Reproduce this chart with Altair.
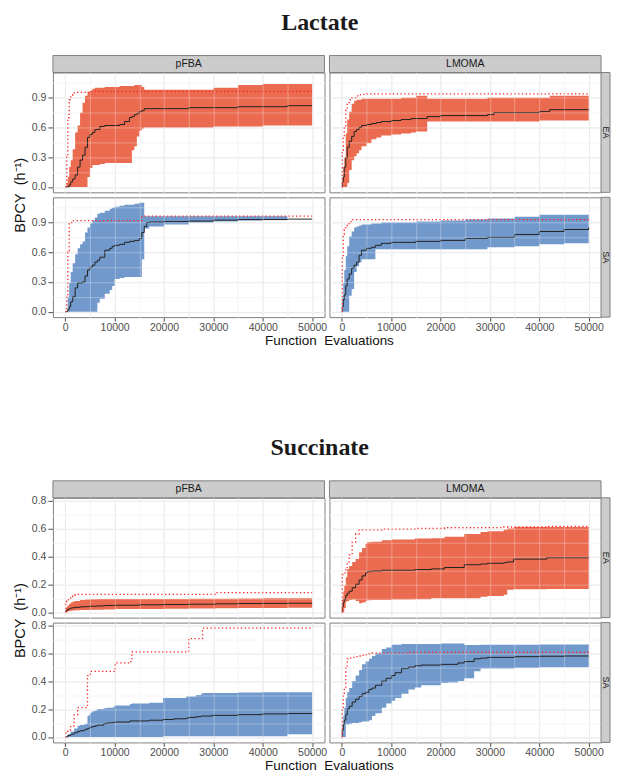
import altair as alt
import pandas as pd

# ---------------------------------------------------------------- data
# Function evaluations at which each step starts, and the step values of
# the ribbon (lower / upper), the median (black) and the maximum (red dots)

# Lactate - pFBA - EA
LAC_PFBA_EA_X = [0, 300, 500, 800, 1100, 1500, 2000, 2500, 3000, 3500, 4000, 4500,
                 5000, 5500, 6000, 7000, 8000, 9000, 10000, 11000, 12000, 13000, 13500,
                 14000, 14500, 15000, 15500, 16000, 17000, 20000, 25000, 30000, 35000,
                 40000, 45000, 50000]
LAC_PFBA_EA_LO = [0, 0, 0, 0, 0, 0, 0, 0, 0, 0, 0, 0.10, 0.19, 0.22, 0.22, 0.23, 0.24,
                  0.24, 0.24, 0.24, 0.24, 0.24, 0.37, 0.41, 0.51, 0.57, 0.59, 0.60, 0.60,
                  0.60, 0.60, 0.61, 0.61, 0.62, 0.62, 0.62]
LAC_PFBA_EA_HI = [0, 0.04, 0.10, 0.20, 0.27, 0.38, 0.55, 0.62, 0.75, 0.85, 0.92, 0.96,
                  0.97, 0.99, 1.00, 1.00, 1.01, 1.01, 1.01, 1.02, 1.02, 1.02, 1.02, 1.03,
                  1.03, 1.03, 1.01, 0.98, 0.98, 0.98, 0.98, 1.00, 1.03, 1.04, 1.04, 1.04]
LAC_PFBA_EA_MED = [0, 0, 0, 0.02, 0.05, 0.08, 0.12, 0.20, 0.27, 0.32, 0.40, 0.50, 0.53,
                   0.55, 0.58, 0.61, 0.62, 0.62, 0.62, 0.63, 0.66, 0.70, 0.71, 0.73, 0.74,
                   0.76, 0.77, 0.79, 0.79, 0.79, 0.80, 0.80, 0.81, 0.81, 0.82, 0.82]
LAC_PFBA_EA_MAX = [0, 0.30, 0.70, 0.88, 0.92, 0.95] + [0.955] * 6 + [0.965] * 24

# Lactate - pFBA - SA
LAC_PFBA_SA_X = [0, 300, 500, 800, 1100, 1500, 2000, 2500, 3000, 3500, 4000, 4500, 5000,
                 5500, 6000, 6500, 7000, 8000, 9000, 9500, 10000, 11000, 12000, 13000,
                 14000, 15000, 15500, 16000, 16500, 17000, 20000, 25000, 30000, 35000,
                 40000, 45000, 50000]
LAC_PFBA_SA_LO = [0] * 15 + [0.09, 0.13, 0.18, 0.22, 0.26, 0.33, 0.34, 0.35, 0.35, 0.35,
                             0.35, 0.53, 0.84, 0.84, 0.86, 0.88, 0.90, 0.91, 0.92, 0.925,
                             0.935, 0.935]
LAC_PFBA_SA_HI = [0, 0, 0.15, 0.29, 0.40, 0.49, 0.58, 0.64, 0.68, 0.71, 0.80, 0.85, 0.89,
                  0.92, 0.95, 0.99, 1.00, 1.02, 1.04, 1.05, 1.06, 1.07, 1.08, 1.08, 1.09,
                  1.10, 1.10] + [0.965] * 8 + [0.935, 0.935]
LAC_PFBA_SA_MED = [0, 0, 0.02, 0.05, 0.10, 0.15, 0.24, 0.29, 0.29, 0.30, 0.36, 0.42, 0.45,
                   0.47, 0.50, 0.52, 0.55, 0.62, 0.64, 0.66, 0.67, 0.68, 0.70, 0.71, 0.72,
                   0.74, 0.80, 0.86, 0.90, 0.905, 0.91, 0.915, 0.925, 0.93, 0.93, 0.935,
                   0.935]
LAC_PFBA_SA_MAX = [0, 0.16, 0.60, 0.89, 0.90] + [0.92] * 21 + [0.965] * 11

# Lactate - LMOMA - EA
LAC_LMOMA_EA_X = [0, 100, 300, 500, 800, 1100, 1500, 2000, 2500, 3000, 3500, 4000, 5000,
                  6000, 7000, 8000, 10000, 12000, 14000, 15000, 17300, 20000, 25000,
                  29500, 30800, 35000, 40000, 42100, 45000, 50000]
LAC_LMOMA_EA_LO = [0, 0, 0, 0, 0, 0.04, 0.17, 0.27, 0.31, 0.34, 0.37, 0.41, 0.44, 0.48,
                   0.50, 0.52, 0.53, 0.54, 0.55, 0.56, 0.66, 0.66, 0.66, 0.66, 0.66, 0.66,
                   0.67, 0.67, 0.67, 0.67]
LAC_LMOMA_EA_HI = [0, 0.10, 0.20, 0.30, 0.54, 0.68, 0.76, 0.84, 0.87, 0.88, 0.88, 0.89,
                   0.89, 0.89, 0.89, 0.89, 0.89, 0.90, 0.90, 0.92, 0.89, 0.89, 0.89, 0.90,
                   0.90, 0.90, 0.90, 0.92, 0.92, 0.92]
LAC_LMOMA_EA_MED = [0, 0.05, 0.10, 0.20, 0.29, 0.40, 0.46, 0.51, 0.56, 0.58, 0.60, 0.62,
                    0.63, 0.64, 0.65, 0.66, 0.67, 0.68, 0.69, 0.69, 0.71, 0.72, 0.72, 0.73,
                    0.75, 0.75, 0.76, 0.78, 0.78, 0.78]
LAC_LMOMA_EA_MAX = [0, 0.37, 0.50, 0.61, 0.78, 0.84, 0.88, 0.90, 0.90, 0.92, 0.93,
                    0.935] + [0.94] * 18

# Lactate - LMOMA - SA
LAC_LMOMA_SA_X = [0, 100, 300, 500, 800, 1100, 1500, 2000, 2500, 3000, 3500, 4000, 5000,
                  6000, 6800, 8000, 10000, 11500, 15000, 20000, 25000, 29500, 35000,
                  40000, 45000, 50000]
LAC_LMOMA_SA_LO = [0, 0, 0, 0, 0, 0, 0.16, 0.23, 0.40, 0.46, 0.50, 0.53, 0.53, 0.53, 0.63,
                   0.63, 0.63, 0.63, 0.63, 0.63, 0.63, 0.65, 0.66, 0.68, 0.69, 0.70]
LAC_LMOMA_SA_HI = [0, 0.15, 0.29, 0.42, 0.56, 0.66, 0.76, 0.81, 0.85, 0.86, 0.87, 0.88,
                   0.88, 0.89, 0.89, 0.90, 0.90, 0.90, 0.91, 0.92, 0.93, 0.94, 0.96, 0.98,
                   0.98, 0.99]
LAC_LMOMA_SA_MED = [0, 0.05, 0.12, 0.17, 0.26, 0.33, 0.38, 0.44, 0.47, 0.50, 0.57, 0.62,
                    0.64, 0.65, 0.67, 0.69, 0.70, 0.70, 0.71, 0.72, 0.74, 0.75, 0.78, 0.81,
                    0.83, 0.85]
LAC_LMOMA_SA_MAX = [0, 0.55, 0.78, 0.83, 0.87, 0.89, 0.91] + [0.93] * 19

# Succinate - pFBA - EA
SUC_PFBA_EA_X = [0, 100, 300, 500, 800, 1100, 1500, 2000, 3000, 4000, 5000, 6500, 8000,
                 10000, 15000, 20000, 25000, 30500, 35000, 40000, 45000, 50000]
SUC_PFBA_EA_LO = [0, 0, 0, 0.005, 0.008, 0.010, 0.012, 0.013, 0.015, 0.016, 0.017, 0.017,
                  0.020, 0.022, 0.023, 0.024, 0.026, 0.028, 0.030, 0.030, 0.032, 0.033]
SUC_PFBA_EA_HI = [0, 0.030, 0.040, 0.050, 0.060, 0.070, 0.076, 0.080, 0.088, 0.090, 0.092,
                  0.095, 0.095, 0.095, 0.095, 0.095, 0.096, 0.097, 0.098, 0.099, 0.100,
                  0.100]
SUC_PFBA_EA_MED = [0, 0.010, 0.015, 0.020, 0.025, 0.030, 0.032, 0.035, 0.038, 0.040,
                   0.043, 0.045, 0.048, 0.050, 0.053, 0.055, 0.057, 0.060, 0.062, 0.063,
                   0.064, 0.065]
SUC_PFBA_EA_MAX = [0, 0.076, 0.080, 0.090, 0.100, 0.110, 0.120] + [0.128] * 10 + [0.14] * 5

# Succinate - pFBA - SA
SUC_PFBA_SA_X = [0, 100, 500, 1100, 1800, 2500, 3000, 3800, 4100, 4500, 4800, 5100, 5500,
                 6100, 6500, 7800, 8500, 9800, 10100, 13100, 13500, 17000, 19800, 22000,
                 24500, 25000, 26500, 27500, 27800, 29800, 35000, 40000, 45000, 50000]
SUC_PFBA_SA_LO = [0] * 22 + [0.005] * 10 + [0.02, 0.02]
SUC_PFBA_SA_HI = [0, 0, 0.02, 0.04, 0.06, 0.08, 0.085, 0.09, 0.095, 0.15, 0.16, 0.175,
                  0.185, 0.19, 0.20, 0.205, 0.21, 0.22, 0.225, 0.237, 0.24, 0.245, 0.28,
                  0.28, 0.29, 0.29, 0.30, 0.31, 0.315, 0.315, 0.318, 0.32, 0.32, 0.32]
SUC_PFBA_SA_MED = [0, 0, 0.01, 0.02, 0.03, 0.04, 0.045, 0.05, 0.055, 0.06, 0.065, 0.07,
                   0.075, 0.08, 0.085, 0.095, 0.10, 0.105, 0.107, 0.115, 0.115, 0.12,
                   0.125, 0.13, 0.135, 0.14, 0.145, 0.15, 0.15, 0.155, 0.16, 0.165, 0.168,
                   0.17]
SUC_PFBA_SA_MAX = ([0, 0.04, 0.05, 0.08, 0.16, 0.21, 0.21, 0.21, 0.21, 0.44, 0.44]
                   + [0.47] * 7 + [0.53, 0.54] + [0.61] * 5 + [0.705] * 3 + [0.78] * 6)

# Succinate - LMOMA - EA
SUC_LMOMA_EA_X = [0, 100, 300, 500, 800, 1100, 1500, 2100, 2800, 3500, 4100, 4800, 5100,
                  6000, 8100, 10100, 14800, 18100, 20800, 24800, 28100, 29500, 32800,
                  33500, 34800, 41500, 45000, 50000]
SUC_LMOMA_EA_LO = [0, 0, 0, 0.03, 0.075, 0.08, 0.088, 0.09, 0.08, 0.064, 0.07, 0.08,
                   0.085, 0.088, 0.088, 0.09, 0.092, 0.10, 0.10, 0.10, 0.11, 0.115, 0.124,
                   0.16, 0.165, 0.166, 0.166, 0.166]
SUC_LMOMA_EA_HI = [0, 0.10, 0.15, 0.19, 0.25, 0.31, 0.33, 0.36, 0.38, 0.43, 0.46, 0.49,
                   0.50, 0.505, 0.515, 0.52, 0.527, 0.53, 0.54, 0.56, 0.575, 0.58, 0.59,
                   0.60, 0.61, 0.61, 0.61, 0.61]
SUC_LMOMA_EA_MED = [0, 0.04, 0.07, 0.09, 0.12, 0.135, 0.15, 0.175, 0.20, 0.23, 0.26, 0.28,
                    0.29, 0.295, 0.30, 0.30, 0.305, 0.31, 0.32, 0.34, 0.345, 0.35, 0.355,
                    0.36, 0.38, 0.39, 0.39, 0.39]
SUC_LMOMA_EA_MAX = [0, 0.27, 0.27, 0.28, 0.31, 0.36, 0.41, 0.50, 0.56, 0.587, 0.59, 0.59,
                    0.59, 0.59, 0.595, 0.595, 0.60, 0.60, 0.605, 0.605, 0.605, 0.605,
                    0.61, 0.61, 0.61, 0.615, 0.615, 0.615]

# Succinate - LMOMA - SA
SUC_LMOMA_SA_X = [0, 100, 300, 500, 800, 1100, 1500, 2100, 2800, 3500, 4100, 4800, 5500,
                  6100, 6800, 8100, 9000, 10100, 10800, 12100, 13500, 14800, 16100, 20100,
                  21500, 23500, 24800, 26800, 28100, 29500, 35000, 40000, 45000, 50000]
SUC_LMOMA_SA_LO = [0, 0, 0, 0, 0.09, 0.09, 0.095, 0.10, 0.10, 0.105, 0.11, 0.11, 0.12,
                   0.15, 0.17, 0.21, 0.24, 0.26, 0.28, 0.31, 0.34, 0.355, 0.37, 0.386,
                   0.39, 0.40, 0.42, 0.47, 0.49, 0.49, 0.495, 0.50, 0.50, 0.50]
SUC_LMOMA_SA_HI = [0, 0.08, 0.15, 0.21, 0.28, 0.32, 0.35, 0.40, 0.44, 0.48, 0.52, 0.54,
                   0.56, 0.58, 0.60, 0.63, 0.64, 0.66, 0.66, 0.665, 0.665, 0.665, 0.665,
                   0.67, 0.67, 0.67, 0.658, 0.658, 0.66, 0.66, 0.66, 0.662, 0.663, 0.663]
SUC_LMOMA_SA_MED = [0, 0.05, 0.09, 0.12, 0.16, 0.20, 0.22, 0.25, 0.27, 0.29, 0.31, 0.32,
                    0.34, 0.35, 0.37, 0.40, 0.42, 0.44, 0.46, 0.49, 0.50, 0.51, 0.515, 0.52,
                    0.52, 0.53, 0.54, 0.56, 0.565, 0.57, 0.575, 0.578, 0.58, 0.58]
SUC_LMOMA_SA_MAX = ([0, 0.20, 0.30, 0.35, 0.50, 0.56, 0.565, 0.57, 0.575, 0.58, 0.585,
                     0.59, 0.595, 0.60] + [0.60] * 6 + [0.605] * 14)

METABOLITES = ["Lactate", "Succinate"]
METHODS = ["pFBA", "LMOMA"]
ALGORITHMS = ["EA", "SA"]

X_TICKS = [0, 5000, 10000, 15000, 20000, 25000, 30000, 35000, 40000, 45000, 50000]
Y_TICKS = {
    "Lactate": [0, 0.15, 0.3, 0.45, 0.6, 0.75, 0.9, 1.05],
    "Succinate": [0, 0.1, 0.2, 0.3, 0.4, 0.5, 0.6, 0.7, 0.8],
}
Y_MAJOR_STEP = {"Lactate": 0.3, "Succinate": 0.2}

SERIES = {
    ("Lactate", "EA", "pFBA"): (LAC_PFBA_EA_X, LAC_PFBA_EA_LO, LAC_PFBA_EA_HI, LAC_PFBA_EA_MED, LAC_PFBA_EA_MAX),
    ("Lactate", "SA", "pFBA"): (LAC_PFBA_SA_X, LAC_PFBA_SA_LO, LAC_PFBA_SA_HI, LAC_PFBA_SA_MED, LAC_PFBA_SA_MAX),
    ("Lactate", "EA", "LMOMA"): (LAC_LMOMA_EA_X, LAC_LMOMA_EA_LO, LAC_LMOMA_EA_HI, LAC_LMOMA_EA_MED, LAC_LMOMA_EA_MAX),
    ("Lactate", "SA", "LMOMA"): (LAC_LMOMA_SA_X, LAC_LMOMA_SA_LO, LAC_LMOMA_SA_HI, LAC_LMOMA_SA_MED, LAC_LMOMA_SA_MAX),
    ("Succinate", "EA", "pFBA"): (SUC_PFBA_EA_X, SUC_PFBA_EA_LO, SUC_PFBA_EA_HI, SUC_PFBA_EA_MED, SUC_PFBA_EA_MAX),
    ("Succinate", "SA", "pFBA"): (SUC_PFBA_SA_X, SUC_PFBA_SA_LO, SUC_PFBA_SA_HI, SUC_PFBA_SA_MED, SUC_PFBA_SA_MAX),
    ("Succinate", "EA", "LMOMA"): (SUC_LMOMA_EA_X, SUC_LMOMA_EA_LO, SUC_LMOMA_EA_HI, SUC_LMOMA_EA_MED, SUC_LMOMA_EA_MAX),
    ("Succinate", "SA", "LMOMA"): (SUC_LMOMA_SA_X, SUC_LMOMA_SA_LO, SUC_LMOMA_SA_HI, SUC_LMOMA_SA_MED, SUC_LMOMA_SA_MAX),
}

# ---------------------------------------------------------------- style
FONT = "Liberation Sans"
FILL = {"EA": "#EA6B50", "SA": "#7299CC"}
W, H = 272, 120
GAP_C, GAP_R = 5, 5
STRIP = 17
SIDE_STRIP = 9
STRIP_FILL, BORDER = "#CCCCCC", "#7F7F7F"
LABEL_COLOR = "#4D4D4D"
X_TITLE = "Function\u00a0\u00a0Evaluations"
Y_TITLE = "BPCY\u00a0\u00a0(h\u207b\u00b9)"

X_MAJOR = "datum.value % 10000 === 0"


def y_major(step):
    return f"abs(datum.value / {step} - round(datum.value / {step})) < 0.001"


def cond(test, a, b):
    return {"condition": {"test": test, "value": a}, "value": b}


def expanded(values_lists):
    lo = min(min(v) for v in values_lists)
    hi = max(max(v) for v in values_lists)
    pad = 0.05 * (hi - lo)
    return [lo - pad, hi + pad]


X_DOMAIN = expanded([SERIES[k][0] for k in SERIES])
Y_DOMAIN = {
    m: expanded([v for k in SERIES if k[0] == m for v in SERIES[k][1:]])
    for m in METABOLITES
}


def x_axis(show, title):
    kw = dict(values=X_TICKS, grid=True, domain=False,
              gridColor=cond(X_MAJOR, "#E2E2E2", "#F3F3F3"), gridWidth=1)
    if show:
        kw.update(labels=True, labelExpr=f"{X_MAJOR} ? format(datum.value, 'd') : ''",
                  labelFont=FONT, labelFontSize=10.5, labelColor=LABEL_COLOR,
                  labelPadding=1, labelFlush=False, labelOverlap=False,
                  ticks=True, tickSize=4, tickColor=LABEL_COLOR,
                  tickOpacity=cond(X_MAJOR, 1, 0))
    else:
        kw.update(labels=False, ticks=False)
    if title:
        kw.update(title=title, titleX=W + GAP_C / 2 + 2, titleY=23, titleFont=FONT,
                  titleFontSize=13.5, titleFontWeight="normal", titleColor="#111111",
                  titleBaseline="middle", titleAlign="center", titleAngle=0)
    else:
        kw.update(title=None)
    return alt.Axis(**kw)


def y_axis(metab, show, title):
    test = y_major(Y_MAJOR_STEP[metab])
    kw = dict(values=Y_TICKS[metab], grid=True, domain=False,
              gridColor=cond(test, "#E2E2E2", "#F3F3F3"), gridWidth=1)
    if show:
        kw.update(labels=True, labelExpr=f"{test} ? format(datum.value, '.1f') : ''",
                  labelFont=FONT, labelFontSize=10.5, labelColor=LABEL_COLOR,
                  labelPadding=2, labelFlush=False, labelOverlap=False,
                  ticks=True, tickSize=5, tickColor=LABEL_COLOR,
                  tickOpacity=cond(test, 1, 0))
    else:
        kw.update(labels=False, ticks=False)
    if title:
        kw.update(title=title, titleX=-32, titleY=-GAP_R / 2, titleFont=FONT,
                  titleFontSize=14.5, titleFontWeight="normal", titleColor="#111111",
                  titleBaseline="middle", titleAlign="center", titleAngle=270)
    else:
        kw.update(title=None)
    return alt.Axis(**kw)


def white_axis(orient, values):
    return alt.Axis(orient=orient, values=values, grid=True, gridColor="#FFFFFF",
                    gridOpacity=0.3, gridWidth=1, labels=False, ticks=False,
                    domain=False, title=None, zindex=1)


def panel(metab, alg, meth):
    xs, lo, hi, med, mx = SERIES[(metab, alg, meth)]
    df = pd.DataFrame({"x": xs, "lo": lo, "hi": hi, "med": med, "max": mx})
    left = meth == "pFBA"
    bottom = alg == "SA"
    top = alg == "EA"
    right = meth == "LMOMA"
    xsc = alt.Scale(domain=X_DOMAIN, nice=False, zero=False)
    ysc = alt.Scale(domain=Y_DOMAIN[metab], nice=False, zero=False)
    xa = x_axis(bottom, X_TITLE if (bottom and left) else None)
    ya = y_axis(metab, left, Y_TITLE if (bottom and left) else None)

    base = alt.Chart(df)
    ribbon = base.mark_area(interpolate="step-after", color=FILL[alg], opacity=1).encode(
        x=alt.X("x:Q", scale=xsc, axis=xa),
        y=alt.Y("lo:Q", scale=ysc, axis=ya),
        y2="hi:Q",
    )
    median = base.mark_line(interpolate="step-after", color="#222222", strokeWidth=1).encode(
        x=alt.X("x:Q", scale=xsc, axis=white_axis("bottom", X_TICKS)),
        y=alt.Y("med:Q", scale=ysc, axis=white_axis("left", Y_TICKS[metab])),
    )
    maximum = base.mark_line(interpolate="step-after", color="#FF1F1F", strokeWidth=1.3,
                             strokeDash=[1.3, 2.5]).encode(
        x=alt.X("x:Q", scale=xsc, axis=None),
        y=alt.Y("max:Q", scale=ysc, axis=None),
    )
    layers = [ribbon, median, maximum]
    if top:
        sdf = pd.DataFrame({"t": [meth]})
        layers.append(alt.Chart(sdf).mark_rect(fill=STRIP_FILL, stroke=BORDER, strokeWidth=1).encode(
            x=alt.value(0), x2=alt.value(W), y=alt.value(-STRIP), y2=alt.value(0)))
        layers.append(alt.Chart(sdf).mark_text(font=FONT, fontSize=10.5, color="#1A1A1A",
                                               baseline="middle", align="center").encode(
            x=alt.value(W / 2), y=alt.value(-STRIP / 2), text="t:N"))
    if right:
        rdf = pd.DataFrame({"t": [alg]})
        layers.append(alt.Chart(rdf).mark_rect(fill=STRIP_FILL, stroke=BORDER, strokeWidth=1).encode(
            x=alt.value(W), x2=alt.value(W + SIDE_STRIP), y=alt.value(0), y2=alt.value(H)))
        layers.append(alt.Chart(rdf).mark_text(font=FONT, fontSize=9, color="#1A1A1A",
                                               baseline="middle", align="center", angle=90).encode(
            x=alt.value(W + SIDE_STRIP / 2), y=alt.value(H / 2), text="t:N"))
    return alt.layer(*layers).resolve_axis(x="independent", y="independent").properties(
        width=W, height=H)


def block(metab):
    cells = [panel(metab, a, m) for a in ALGORITHMS for m in METHODS]
    return alt.concat(
        *cells, columns=2, spacing={"row": GAP_R, "column": GAP_C}, bounds="flush",
        title=alt.TitleParams(metab, font="Liberation Serif", fontSize=24, fontWeight="bold",
                              color="#1A1A1A", anchor="middle", offset=20, dx=8),
    )


chart = alt.vconcat(block("Lactate"), block("Succinate"), spacing=89).properties(
    padding={"left": 4, "top": 2, "right": 0, "bottom": 0},
    background="white",
).configure_view(stroke=BORDER, strokeWidth=1, fill="white")

chart.save("out.html", embed_options={"renderer": "svg", "actions": False})
